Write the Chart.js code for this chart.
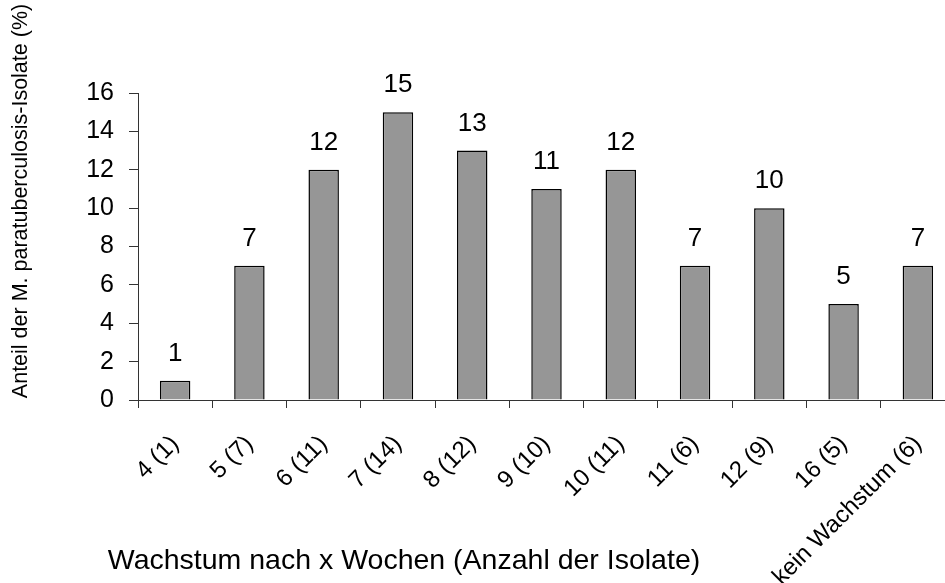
<!DOCTYPE html>
<html>
<head>
<meta charset="utf-8">
<script src="https://cdn.jsdelivr.net/npm/chart.js@4.4.1/dist/chart.umd.min.js"></script>
<style>
  html, body { margin: 0; padding: 0; background: #fff; overflow: hidden; }
  canvas { display: block; }
</style>
</head>
<body>
<canvas id="c" width="965" height="583"></canvas>
<script>
// Wachstumsdauer bis zum Nachweis (Wochen) mit Anzahl der Isolate
const categories = ['4 (1)', '5 (7)', '6 (11)', '7 (14)', '8 (12)', '9 (10)', '10 (11)', '11 (6)', '12 (9)', '16 (5)', 'kein Wachstum (6)'];
// Anteil der Isolate in Prozent
const percentValues = [1, 7, 12, 15, 13, 11, 12, 7, 10, 5, 7];
const yTicks = [0, 2, 4, 6, 8, 10, 12, 14, 16];

const xTitle = 'Wachstum nach x Wochen (Anzahl der Isolate)';
const yTitle = 'Anteil der M. paratuberculosis-Isolate (%)';

const FONT = '"Liberation Sans", Arial, Helvetica, sans-serif';

// Werte über den Balken und Achsentitel
const annotate = {
  id: 'annotate',
  afterDatasetsDraw(chart) {
    const ctx = chart.ctx;
    const meta = chart.getDatasetMeta(0);
    ctx.save();
    ctx.fillStyle = '#000';
    ctx.font = '26px ' + FONT;
    ctx.textAlign = 'center';
    ctx.textBaseline = 'alphabetic';
    meta.data.forEach((bar, i) => {
      ctx.fillText(String(percentValues[i]), bar.x, bar.y - 20);
    });
    ctx.restore();
  },
  afterDraw(chart) {
    const ctx = chart.ctx;
    ctx.save();
    ctx.fillStyle = '#000';
    ctx.textAlign = 'center';
    ctx.textBaseline = 'middle';
    ctx.font = '28.5px ' + FONT;
    ctx.fillText(xTitle, 404, 561);
    ctx.translate(21, 201);
    ctx.rotate(-Math.PI / 2);
    ctx.font = '21.5px ' + FONT;
    ctx.fillText(yTitle, 0, 0);
    ctx.restore();
  }
};

new Chart(document.getElementById('c'), {
  type: 'bar',
  data: {
    labels: categories,
    datasets: [{
      data: percentValues,
      backgroundColor: '#969696',
      borderColor: '#000',
      borderWidth: 1.5,
      barPercentage: 0.41,
      categoryPercentage: 1.0
    }]
  },
  options: {
    responsive: false,
    animation: false,
    events: [],
    layout: { padding: { left: 0, top: 93, right: 10, bottom: 0 } },
    plugins: { legend: { display: false }, tooltip: { enabled: false } },
    scales: {
      x: {
        offset: true,
        grid: { offset: true, drawOnChartArea: false, drawTicks: true, tickLength: 8, color: '#333', lineWidth: 1 },
        border: { display: true, color: '#333', width: 1 },
        ticks: {
          color: '#000',
          font: { family: FONT, size: 24 },
          maxRotation: 45,
          minRotation: 45,
          padding: 22,
          autoSkip: false
        },
        afterFit(scale) { scale.height = 183; }
      },
      y: {
        min: 0,
        max: 16,
        afterBuildTicks(scale) { scale.ticks = yTicks.map(v => ({ value: v })); },
        grid: { drawOnChartArea: false, drawTicks: true, tickLength: 9, color: '#333', lineWidth: 1 },
        border: { display: true, color: '#333', width: 1 },
        ticks: {
          color: '#000',
          font: { family: FONT, size: 25 },
          padding: 15
        },
        afterFit(scale) { scale.width = 138; }
      }
    }
  },
  plugins: [annotate]
});
</script>
</body>
</html>
